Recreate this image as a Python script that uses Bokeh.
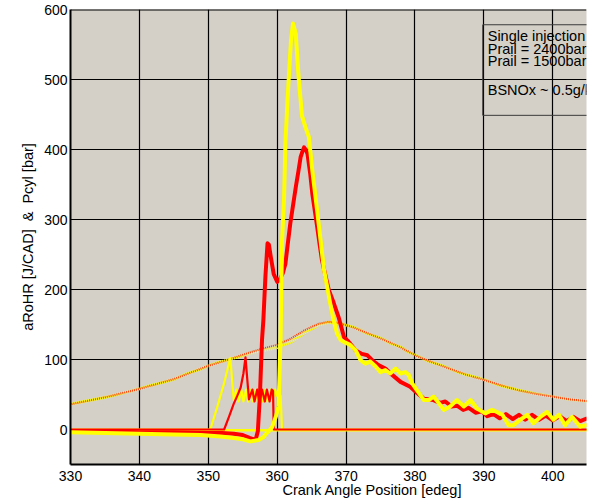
from bokeh.plotting import figure
from bokeh.models import Range1d, FixedTicker, Span, Title
from bokeh.core.properties import value
from bokeh.embed import file_html
from bokeh.resources import INLINE

# ---------------- data ----------------
x_ticks = [330, 340, 350, 360, 370, 380, 390, 400]
y_ticks = [0, 100, 200, 300, 400, 500, 600]

# aRoHR, Prail = 2400 bar (red)
rohr_red_x = [330, 335, 340, 345, 350, 352, 353.7, 355, 356.0, 356.6, 356.9, 357.2, 357.5, 357.8,
              358.0, 358.3, 358.6, 358.8, 359.1, 359.5, 360.0, 360.4, 360.8, 361.2, 361.5, 361.9,
              362.3, 362.7, 363.1, 363.4, 363.7, 363.9, 364.2, 364.4, 364.8, 365.1, 365.5, 365.8,
              366.2, 366.5, 367.0, 367.5, 368.2, 368.9, 369.7, 370.4, 371.4, 372.3, 373.1, 373.8,
              374.7, 375.7, 376.7, 377.9, 379.3, 380.1, 381.3, 382.7, 383.6, 384.4, 385.3, 386.1,
              387.0, 387.8, 388.8, 389.7, 390.5, 391.4, 392.3, 393.2, 394.2, 395.1, 396.0, 397.0,
              398.0, 399.0, 400.0, 401.0, 402.0, 403.0, 404.0, 405.0]
rohr_red_y = [-3, -3, -4, -4, -5, -5, -6, -8, -12, -14, -14, -2, 50, 128,
              157, 220, 266, 264, 245, 222, 211, 215, 223, 237, 262, 294,
              320, 346, 370, 389, 398, 403, 399, 394, 365, 337, 310, 290,
              262, 242, 220, 199, 181, 161, 132, 125, 113, 108, 106, 99,
              92, 87, 78, 68, 61, 54, 44, 42, 38, 40, 33, 34,
              28, 31, 24, 26, 19, 22, 16, 22, 15, 21, 14, 21,
              14, 20, 13, 19, 12, 18, 12, 16]

# aRoHR, Prail = 1500 bar (yellow)
rohr_yel_x = [330, 335, 340, 345, 348.9, 351.8, 353.7, 355, 356.1, 357.3, 358.0, 358.5, 359.0,
              359.3, 359.8, 360.2, 360.5, 360.7, 361.0, 361.2, 361.5, 361.7, 362.0, 362.3, 362.7,
              363.1, 363.6, 364.1, 364.6, 365.1, 365.8, 366.8, 367.7, 368.2, 368.7, 369.2, 369.9,
              370.6, 371.4, 372.1, 372.8, 373.5, 374.3, 375.0, 375.7, 376.4, 377.2, 377.9, 378.6,
              379.1, 379.6, 380.3, 381.3, 382.0, 382.7, 383.5, 384.2, 385.1, 386.1, 387.1, 388.1,
              389.0, 390.2, 391.2, 391.9, 392.7, 393.6, 394.3, 395.3, 396.3, 397.2, 398.2, 399.2,
              400.1, 400.9, 401.8, 402.8, 404.0, 404.7, 405.5]
rohr_yel_y = [-4, -5, -6, -7, -8, -10, -12, -14, -17, -15, -11, -5, 0,
              4, 18, 33, 133, 267, 330, 410, 470, 505, 555, 580, 565,
              505, 448, 432, 418, 370, 313, 228, 180, 156, 137, 128, 124,
              121, 113, 99, 94, 97, 90, 82, 85, 80, 87, 80, 82,
              78, 66, 56, 42, 42, 47, 37, 28, 33, 42, 33, 42,
              30, 23, 28, 25, 21, 6, 6, 14, 21, 9, 18, 25,
              14, 21, 6, 18, 4, 6, 6]

# injection signals (thin lines)
inj_red_x = [330, 352.3, 353.0, 353.7, 354.2, 354.7, 355.1, 355.4, 355.9, 356.4, 356.7, 357.1,
             357.4, 357.8, 358.2, 358.5, 358.9, 359.2, 359.4, 359.5, 405.5]
inj_red_y = [0, 0, 18, 37, 48, 60, 80, 103, 43, 57, 40, 57,
             40, 57, 40, 57, 40, 57, 55, 0, 0]

inj_yel_x = [330, 350.3, 351.3, 352.3, 353.2, 353.7, 354.1, 354.4, 354.8, 355.1, 355.5, 355.8,
             356.2, 356.5, 356.9, 357.2, 357.6, 357.9, 358.3, 358.6, 359.0, 359.3, 359.7,
             360.0, 360.5, 360.7, 405.5]
inj_yel_y = [0, 0, 32, 66, 102, 42, 57, 40, 57, 40, 57, 40,
             57, 40, 57, 40, 57, 40, 57, 40, 57, 40, 57,
             48, 48, 0, 0]

zero_x = [330, 405.5]
zero_y = [-1, -1]

# cylinder pressure
pcyl_x = [330, 335, 340, 345, 350, 353, 356, 358, 360, 362, 364, 366, 367.5, 369, 371, 373,
          375.5, 378, 380, 382.5, 385, 387.5, 390, 392.5, 395, 397.5, 400, 402.5, 405.5]
pcyl_red_y = [36, 46, 58, 72, 91, 100, 110, 116, 121, 130, 142, 151, 154, 152, 146, 138,
              128, 117, 106, 96, 87, 78, 71, 63, 56, 51, 47, 43, 40]
pcyl_yel_y = [36, 46, 58, 72, 91, 100, 109, 113, 117, 125, 138, 149, 153, 152, 146, 138,
              128, 117, 106, 96, 87, 78, 71, 63, 56, 51, 47, 43, 40]

note_lines = ["Single injection", "Prail = 2400bar", "Prail = 1500bar", "BSNOx ~ 0.5g/kWh"]
note_y = [561.8, 543.6, 526.0, 485.5]

# ---------------- figure ----------------
FONT = "Liberation Sans"
p = figure(width=594, height=499, x_range=Range1d(330, 404.9), y_range=Range1d(-50, 600),
           output_backend="svg", toolbar_location=None,
           min_border_left=70, min_border_right=8, min_border_top=9, min_border_bottom=35)
p.background_fill_color = "#d4d0c8"
p.border_fill_color = "white"
p.outline_line_color = None

for ax, tk in ((p.xaxis, x_ticks), (p.yaxis, y_ticks)):
    ax.ticker = FixedTicker(ticks=tk)
    ax.major_tick_in = 0
    ax.major_tick_out = 0
    ax.minor_tick_in = 0
    ax.minor_tick_out = 0
    ax.axis_line_color = "black"
    ax.axis_line_width = 2
    ax.major_label_text_font = FONT
    ax.major_label_text_font_size = "14px"
    ax.major_label_text_color = "black"
    ax.major_label_standoff = 3

p.xaxis.major_label_standoff = 6

p.yaxis.axis_label = "aRoHR [J/CAD] \u00a0&\u00a0 Pcyl [bar]"
p.yaxis.axis_label_text_font = FONT
p.yaxis.axis_label_text_font_size = "14.5px"
p.yaxis.axis_label_text_font_style = "normal"
p.yaxis.axis_label_text_color = "black"
p.yaxis.axis_label_standoff = 5

p.add_layout(Title(text="Crank Angle Position [edeg]", align="left", offset=212,
                   standoff=-7, text_font=FONT, text_font_size="14.5px",
                   text_font_style="normal", text_color="black"), "below")

p.xgrid.ticker = FixedTicker(ticks=x_ticks)
p.ygrid.ticker = FixedTicker(ticks=y_ticks)
for g in (p.xgrid, p.ygrid):
    g.grid_line_color = "black"
    g.grid_line_width = 1.2
    g.grid_line_alpha = 1.0

p.add_layout(Span(location=600, dimension="width", line_color="black", line_width=2))

# pressure (dotted, red/yellow speckle)
p.line(pcyl_x, pcyl_yel_y, line_color="#ffff00", line_width=3, line_dash="1 1")
p.line(pcyl_x, pcyl_red_y, line_color="#ff3c00", line_width=2.0, line_dash="1 1",
       line_dash_offset=1)

# injection signals
p.line(zero_x, zero_y, line_color="#ffff00", line_width=2.5)
p.line(inj_yel_x, inj_yel_y, line_color="#ffff00", line_width=2.2, line_join="round")
p.line(inj_red_x, inj_red_y, line_color="#ff0000", line_width=2.2, line_join="round")

# heat release
p.line(rohr_red_x, rohr_red_y, line_color="#ff0000", line_width=4, line_join="round")
p.line(rohr_yel_x, rohr_yel_y, line_color="#ffff00", line_width=4, line_join="round")

# annotation box
p.quad(left=[389.84], right=[430], top=[578.2], bottom=[448.8], fill_color=None,
       line_color="#3a3a3a", line_width=1)
p.text(x=[390.56] * len(note_lines), y=note_y, text=note_lines, text_font=value(FONT),
       text_font_size="14.5px", text_color="black", text_baseline="middle", text_align="left")

open("out.html", "w").write(file_html(p, INLINE))
